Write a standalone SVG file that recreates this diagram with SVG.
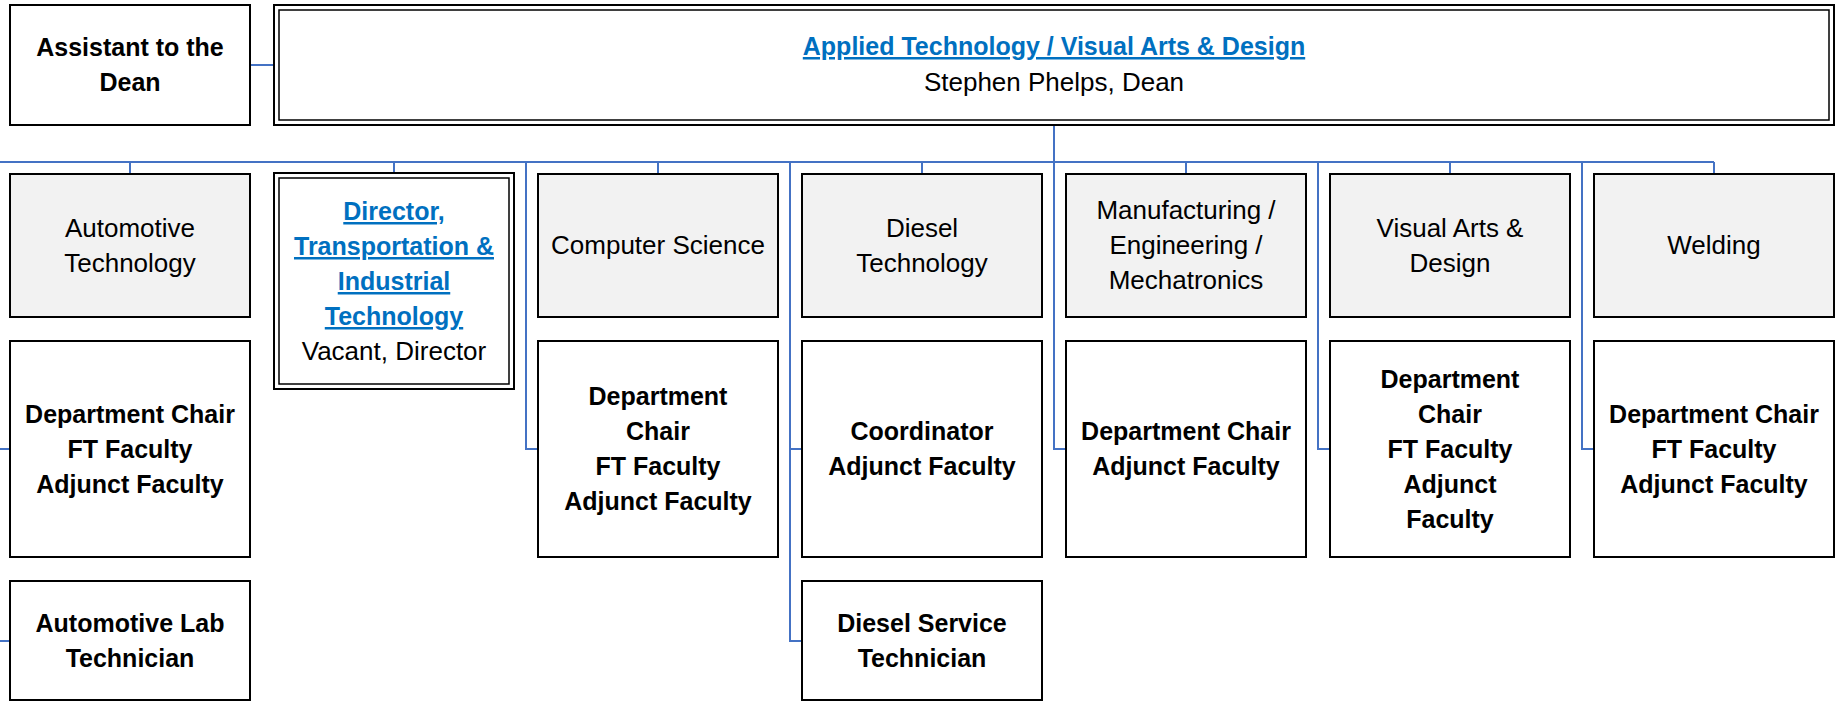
<svg xmlns="http://www.w3.org/2000/svg" width="1836" height="701" viewBox="0 0 1836 701">
<style>
.box{fill:#ffffff;stroke:#000000;stroke-width:2}
.hdr{fill:#f2f2f2;stroke:#000000;stroke-width:2}
.dbl{fill:none;stroke:#000000;stroke-width:1.5}
.conn{fill:none;stroke:#4472c4;stroke-width:2}
text{font-family:"Liberation Sans",Arial,sans-serif;text-anchor:middle}
.b{font-weight:bold;font-size:25px;fill:#000000}
.r{font-size:26px;fill:#000000}
.lnk{font-weight:bold;font-size:25px;fill:#0070c0;text-decoration:underline}
</style>
<rect x="0" y="0" width="1836" height="701" fill="#ffffff"/>
<g id="connectors">
<path class="conn" d="M250,65H274"/>
<path class="conn" d="M1054,125V162"/>
<path class="conn" d="M0,162H1714"/>
<path class="conn" d="M130,162V174M394,162V173M658,162V174M922,162V174M1186,162V174M1450,162V174M1714,162V174"/>
<path class="conn" d="M0,449H10M0,641H10"/>
<path class="conn" d="M526,162V449H538"/>
<path class="conn" d="M790,162V641H802M790,449H802"/>
<path class="conn" d="M1054,162V449H1066"/>
<path class="conn" d="M1318,162V449H1330"/>
<path class="conn" d="M1582,162V449H1594"/>
</g>
<g id="assistant">
<rect class="box" x="10" y="5" width="240" height="120"/>
<text class="b" x="130" y="56">Assistant to the</text>
<text class="b" x="130" y="91">Dean</text>
</g>
<g id="dean">
<rect class="box" x="274" y="5" width="1560" height="120"/>
<rect class="dbl" x="279" y="10" width="1550" height="110"/>
<text class="lnk" x="1054" y="55">Applied Technology / Visual Arts &amp; Design</text>
<text class="r" x="1054" y="91">Stephen Phelps, Dean</text>
</g>
<g id="automotive">
<rect class="hdr" x="10" y="174" width="240" height="143"/>
<text class="r" x="130" y="237">Automotive</text>
<text class="r" x="130" y="272">Technology</text>
</g>
<g id="automotive-staff">
<rect class="box" x="10" y="341" width="240" height="216"/>
<text class="b" x="130" y="423">Department Chair</text>
<text class="b" x="130" y="458">FT Faculty</text>
<text class="b" x="130" y="493">Adjunct Faculty</text>
</g>
<g id="automotive-lab">
<rect class="box" x="10" y="581" width="240" height="119"/>
<text class="b" x="130" y="632">Automotive Lab</text>
<text class="b" x="130" y="667">Technician</text>
</g>
<g id="director">
<rect class="box" x="274" y="173" width="240" height="216"/>
<rect class="dbl" x="279" y="178" width="230" height="206"/>
<text class="lnk" x="394" y="220">Director,</text>
<text class="lnk" x="394" y="255">Transportation &amp;</text>
<text class="lnk" x="394" y="290">Industrial</text>
<text class="lnk" x="394" y="325">Technology</text>
<text class="r" x="394" y="360">Vacant, Director</text>
</g>
<g id="computer-science">
<rect class="hdr" x="538" y="174" width="240" height="143"/>
<text class="r" x="658" y="254">Computer Science</text>
</g>
<g id="computer-science-staff">
<rect class="box" x="538" y="341" width="240" height="216"/>
<text class="b" x="658" y="405">Department</text>
<text class="b" x="658" y="440">Chair</text>
<text class="b" x="658" y="475">FT Faculty</text>
<text class="b" x="658" y="510">Adjunct Faculty</text>
</g>
<g id="diesel">
<rect class="hdr" x="802" y="174" width="240" height="143"/>
<text class="r" x="922" y="237">Diesel</text>
<text class="r" x="922" y="272">Technology</text>
</g>
<g id="diesel-staff">
<rect class="box" x="802" y="341" width="240" height="216"/>
<text class="b" x="922" y="440">Coordinator</text>
<text class="b" x="922" y="475">Adjunct Faculty</text>
</g>
<g id="diesel-tech">
<rect class="box" x="802" y="581" width="240" height="119"/>
<text class="b" x="922" y="632">Diesel Service</text>
<text class="b" x="922" y="667">Technician</text>
</g>
<g id="manufacturing">
<rect class="hdr" x="1066" y="174" width="240" height="143"/>
<text class="r" x="1186" y="219">Manufacturing /</text>
<text class="r" x="1186" y="254">Engineering /</text>
<text class="r" x="1186" y="289">Mechatronics</text>
</g>
<g id="manufacturing-staff">
<rect class="box" x="1066" y="341" width="240" height="216"/>
<text class="b" x="1186" y="440">Department Chair</text>
<text class="b" x="1186" y="475">Adjunct Faculty</text>
</g>
<g id="visual-arts">
<rect class="hdr" x="1330" y="174" width="240" height="143"/>
<text class="r" x="1450" y="237">Visual Arts &amp;</text>
<text class="r" x="1450" y="272">Design</text>
</g>
<g id="visual-arts-staff">
<rect class="box" x="1330" y="341" width="240" height="216"/>
<text class="b" x="1450" y="388">Department</text>
<text class="b" x="1450" y="423">Chair</text>
<text class="b" x="1450" y="458">FT Faculty</text>
<text class="b" x="1450" y="493">Adjunct</text>
<text class="b" x="1450" y="528">Faculty</text>
</g>
<g id="welding">
<rect class="hdr" x="1594" y="174" width="240" height="143"/>
<text class="r" x="1714" y="254">Welding</text>
</g>
<g id="welding-staff">
<rect class="box" x="1594" y="341" width="240" height="216"/>
<text class="b" x="1714" y="423">Department Chair</text>
<text class="b" x="1714" y="458">FT Faculty</text>
<text class="b" x="1714" y="493">Adjunct Faculty</text>
</g>
</svg>
